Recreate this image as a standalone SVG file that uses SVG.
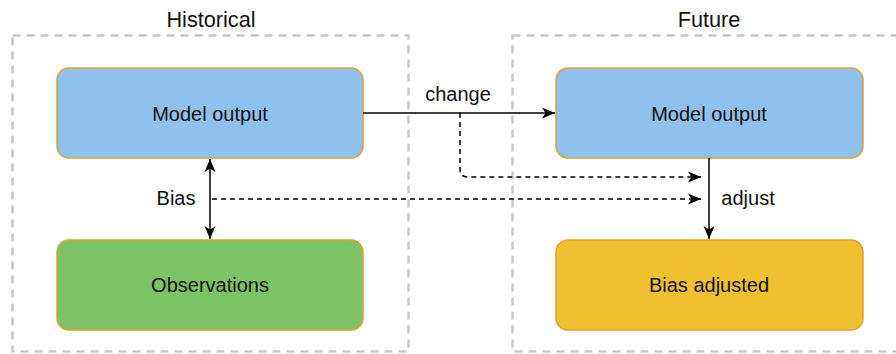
<svg xmlns="http://www.w3.org/2000/svg" width="896" height="354" viewBox="0 0 896 354">
<style>
.grp{fill:none;stroke:#c8c8c8;stroke-width:2.5;stroke-dasharray:8 6}
.node{stroke:#e0a030;stroke-width:1.5}
.blue{fill:#90c0ec}
.green{fill:#7dc365}
.yellow{fill:#f0c030}
text{font-family:"Liberation Sans",Arial,sans-serif;fill:#111;text-anchor:middle}
.t{font-size:20px}
.h{font-size:21.7px}
.c{fill:none;stroke:#000;stroke-width:1.5}
.d{stroke-dasharray:5 4}
</style>
<defs>
<marker id="ah" markerWidth="14" markerHeight="12" refX="13" refY="6" orient="auto-start-reverse" markerUnits="userSpaceOnUse">
<path d="M0,0.5 L13,6 L0,11.5 L3.5,6 Z" fill="#000"/>
</marker>
</defs>
<g id="historical-group">
<rect class="grp" x="12.5" y="35.5" width="396" height="316"/>
<text class="h" x="211" y="27">Historical</text>
</g>
<g id="future-group">
<rect class="grp" x="512.5" y="35.5" width="400" height="316"/>
<text class="h" x="709" y="27">Future</text>
</g>
<g id="hist-model">
<rect class="node blue" x="57" y="68" width="306" height="90" rx="12"/>
<text class="t" x="210" y="121">Model output</text>
</g>
<g id="observations">
<rect class="node green" x="57" y="240" width="306" height="90" rx="12"/>
<text class="t" x="210" y="292">Observations</text>
</g>
<g id="fut-model">
<rect class="node blue" x="556" y="68" width="307" height="90" rx="12"/>
<text class="t" x="709" y="121">Model output</text>
</g>
<g id="bias-adjusted">
<rect class="node yellow" x="556" y="240" width="307" height="90" rx="12"/>
<text class="t" x="709" y="292">Bias adjusted</text>
</g>
<g id="connectors">
<path class="c" d="M363,113 H555" marker-end="url(#ah)"/>
<text class="t" x="458" y="101">change</text>
<path class="c d" d="M460,113 V169 Q460,177 468,177 H701" marker-end="url(#ah)"/>
<path class="c" d="M210,159 V239" marker-start="url(#ah)" marker-end="url(#ah)"/>
<text class="t" x="176" y="205">Bias</text>
<path class="c d" d="M212,199 H701" marker-end="url(#ah)"/>
<path class="c" d="M709,158 V239" marker-end="url(#ah)"/>
<text class="t" x="748" y="205">adjust</text>
</g>
</svg>
